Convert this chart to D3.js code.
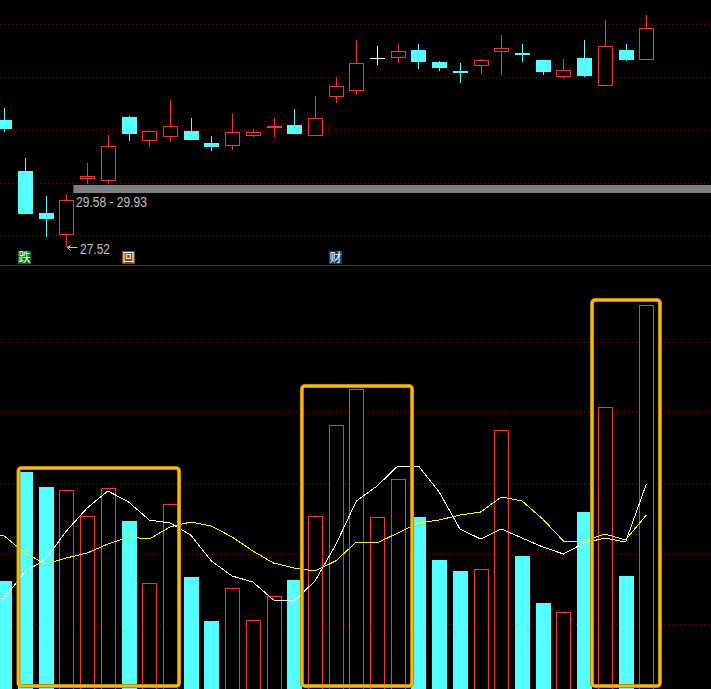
<!DOCTYPE html>
<html>
<head>
<meta charset="utf-8">
<script src="https://cdn.jsdelivr.net/npm/d3@7"></script>
<style>
  html, body { margin: 0; padding: 0; background: #000; }
  svg { display: block; }
</style>
</head>
<body>
<div id="chart"></div>
<script>
// daily candles
const opens  = [32.53,30.49,28.82,28.03,30.21,30.13,32.65,31.73,31.89,32.09,31.61,31.53,31.93,32.25,32.33,31.93,33.49,33.73,35.01,35.05,35.33,34.85,34.49,34.73,35.29,35.21,34.93,34.29,35.01,33.93,35.33,34.97];
const closes = [32.17,28.78,28.59,29.33,30.29,31.49,31.97,32.09,32.29,31.73,31.45,32.05,32.05,32.29,31.97,32.61,33.89,34.81,35.01,35.29,34.85,34.61,34.41,34.93,35.41,35.13,34.45,34.53,34.29,35.49,34.93,36.21];
const highs  = [33.01,31.01,29.47,29.54,30.81,31.93,32.69,32.13,33.33,32.61,31.89,32.77,32.17,32.61,32.97,33.49,34.25,35.73,35.49,35.57,35.57,34.89,34.81,34.97,35.93,35.57,34.93,34.97,35.73,36.53,35.57,36.73];
const lows   = [32.05,28.78,27.90,27.52,29.97,30.01,31.69,31.45,31.65,31.73,31.29,31.33,31.85,31.85,31.97,31.93,33.21,33.53,34.73,34.81,34.57,34.49,34.01,34.37,34.33,34.85,34.33,34.17,34.25,33.93,34.89,34.97];

// volume pane
const volumes = [11400,22300,20800,20500,17900,20700,17400,11200,19100,11800,7400,10700,7500,9900,11500,17900,27000,30600,17800,21600,17800,13500,12400,12600,26500,13900,9200,8300,18300,28800,11900,39000];
// averages start one session before the first candle, off the left edge
const volFast = [9700,9700,12300,13600,16400,18700,20400,19300,17500,17200,16000,13400,11900,11300,9500,9400,11400,15000,19400,20900,22900,22900,20300,16600,15600,16600,15700,14800,14100,15200,15700,15300,21100];
const volSlow = [16000,15900,14200,13100,13700,14200,15100,15800,15600,16800,17300,16900,15800,14400,13200,12700,12400,13400,15300,15200,16200,17200,17500,18000,18300,19800,19400,17600,15400,15400,16100,15500,18000];

const priceTicks = [36.39,34.27,32.15,30.03,27.96];
const volumeTicks = [35300,28300,21200,14100,7100];

const zoneLow = 29.58;
const zoneHigh = 29.93;
const lowestPrice = 27.52;

const signalIndex = [1,6,16];
const signalText = ["跌","回","财"];
const signalFill = ["#007a12","#8a4a12","#123e78"];

// orange boxes, in candle index and volume units
const boxStart = [0.68,14.37,28.38];
const boxEnd = [8.44,19.69,31.66];
const boxTop = [22700,30900,39500];
const boxBottom = [900,900,900];

const width = 711;
const height = 689;
const red = "#ff3232";
const cyan = "#54ffff";

const svg = d3.select("#chart").append("svg")
  .attr("width", width)
  .attr("height", height)
  .style("background", "#000");

const x = d3.scaleLinear().domain([0, 31]).range([4.3, 646.3]);

// the price axis is stretched a bit below the zone, like the terminal's own
const yPrice = d3.scaleLinear()
  .domain([lowestPrice, zoneLow, zoneHigh, 37.33])
  .range([247, 193, 185, 0]);

const yVol = d3.scaleLinear().domain([0, 69500]).range([695, 0]);

function grid(axis) {
  const g = svg.append("g").call(axis.tickSize(-width).tickFormat(""));
  g.select(".domain").remove();
  g.selectAll("line")
    .attr("stroke", "#7a0000")
    .attr("stroke-dasharray", "1 3")
    .attr("shape-rendering", "crispEdges");
}

grid(d3.axisLeft(yPrice).tickValues(priceTicks));
grid(d3.axisLeft(yVol).tickValues(volumeTicks));

// pane separator
svg.append("line")
  .attr("x1", 0)
  .attr("x2", width)
  .attr("y1", 265.5)
  .attr("y2", 265.5)
  .attr("stroke", "#c00000");

// support zone
svg.append("rect")
  .attr("x", x(3) + 7)
  .attr("y", yPrice(zoneHigh))
  .attr("width", width - x(3) - 7)
  .attr("height", yPrice(zoneLow) - yPrice(zoneHigh))
  .attr("fill", "#808080");

svg.append("text")
  .attr("x", 76)
  .attr("y", yPrice(zoneLow) + 14)
  .attr("fill", "#c0c0c0")
  .attr("textLength", 71)
  .attr("lengthAdjust", "spacingAndGlyphs")
  .style("font", "14px 'Liberation Sans'")
  .text(`${zoneLow} - ${zoneHigh}`);

const candleColor = i => closes[i] > opens[i] ? red : closes[i] < opens[i] ? cyan : "#ffffff";
const indexes = d3.range(closes.length);
const falling = i => closes[i] < opens[i];

// wicks
svg.selectAll(".wick")
  .data(indexes)
  .join("line")
  .attr("class", "wick")
  .attr("x1", i => Math.round(x(i)) + 0.5)
  .attr("x2", i => Math.round(x(i)) + 0.5)
  .attr("y1", i => yPrice(highs[i]))
  .attr("y2", i => yPrice(lows[i]))
  .attr("stroke", candleColor)
  .attr("shape-rendering", "crispEdges");

// falling bodies are filled, rising ones are hollow on black
svg.selectAll(".body")
  .data(indexes)
  .join("rect")
  .attr("class", "body")
  .attr("x", i => Math.round(x(i)) - (falling(i) ? 7 : 6.5))
  .attr("width", i => falling(i) ? 15 : 14)
  .attr("y", i => Math.round(yPrice(Math.max(opens[i], closes[i]))) + (falling(i) ? 0 : 0.5))
  .attr("height", i => Math.max(Math.round(Math.abs(yPrice(opens[i]) - yPrice(closes[i]))), 0.01))
  .attr("fill", i => falling(i) ? cyan : "#000")
  .attr("stroke", i => falling(i) ? "none" : candleColor(i))
  .attr("shape-rendering", "crispEdges");

// lowest price marker
const lowY = Math.round(yPrice(lowestPrice)) + 0.5;
svg.append("path")
  .attr("d", d3.line()([[x(3) + 11, lowY], [x(3) + 1, lowY], [x(3) + 4, lowY - 2], [x(3) + 1, lowY], [x(3) + 4, lowY + 3]]))
  .attr("fill", "none")
  .attr("stroke", "#c0c0c0");

svg.append("text")
  .attr("x", 80)
  .attr("y", lowY + 6)
  .attr("fill", "#c0c0c0")
  .attr("textLength", 30)
  .attr("lengthAdjust", "spacingAndGlyphs")
  .style("font", "14px 'Liberation Sans'")
  .text(lowestPrice);

// signal tags
svg.selectAll(".tag")
  .data(signalIndex)
  .join("rect")
  .attr("class", "tag")
  .attr("x", d => Math.round(x(d)) - 7)
  .attr("y", 251)
  .attr("width", 13)
  .attr("height", 13)
  .attr("fill", (d, i) => signalFill[i]);

svg.selectAll(".tag-text")
  .data(signalIndex)
  .join("text")
  .attr("class", "tag-text")
  .attr("x", d => Math.round(x(d)) - 0.5)
  .attr("y", 262)
  .attr("text-anchor", "middle")
  .attr("fill", "#ffffff")
  .style("font", "12px 'Noto Sans CJK SC'")
  .text((d, i) => signalText[i]);

// volume bars
svg.selectAll(".bar")
  .data(volumes)
  .join("rect")
  .attr("class", "bar")
  .attr("x", (d, i) => Math.round(x(i)) - (falling(i) ? 7 : 6.5))
  .attr("width", (d, i) => falling(i) ? 15 : 14)
  .attr("y", (d, i) => Math.round(yVol(d)) + (falling(i) ? 0 : 0.5))
  .attr("height", d => yVol(0) - yVol(d))
  .attr("fill", (d, i) => falling(i) ? cyan : "#000")
  .attr("stroke", (d, i) => falling(i) ? "none" : red)
  .attr("shape-rendering", "crispEdges");

// volume averages, hard pixel steps like the terminal
const volLine = d3.line().x((d, i) => x(i - 1)).y(d => yVol(d));

svg.append("path")
  .datum(volSlow)
  .attr("fill", "none")
  .attr("stroke", "#ffff00")
  .attr("shape-rendering", "crispEdges")
  .attr("d", volLine);

svg.append("path")
  .datum(volFast)
  .attr("fill", "none")
  .attr("stroke", "#ffffff")
  .attr("shape-rendering", "crispEdges")
  .attr("d", volLine);

// highlight boxes, darker rim under the bright stroke
[["#a87c10", 4], ["#ffb900", 2.5]].forEach(([color, strokeWidth]) => {
  svg.append("g").selectAll("rect")
    .data(boxStart)
    .join("rect")
    .attr("x", d => x(d))
    .attr("width", (d, i) => x(boxEnd[i]) - x(d))
    .attr("y", (d, i) => yVol(boxTop[i]))
    .attr("height", (d, i) => yVol(boxBottom[i]) - yVol(boxTop[i]))
    .attr("rx", 3)
    .attr("fill", "none")
    .attr("stroke", color)
    .attr("stroke-width", strokeWidth);
});
</script>
</body>
</html>
